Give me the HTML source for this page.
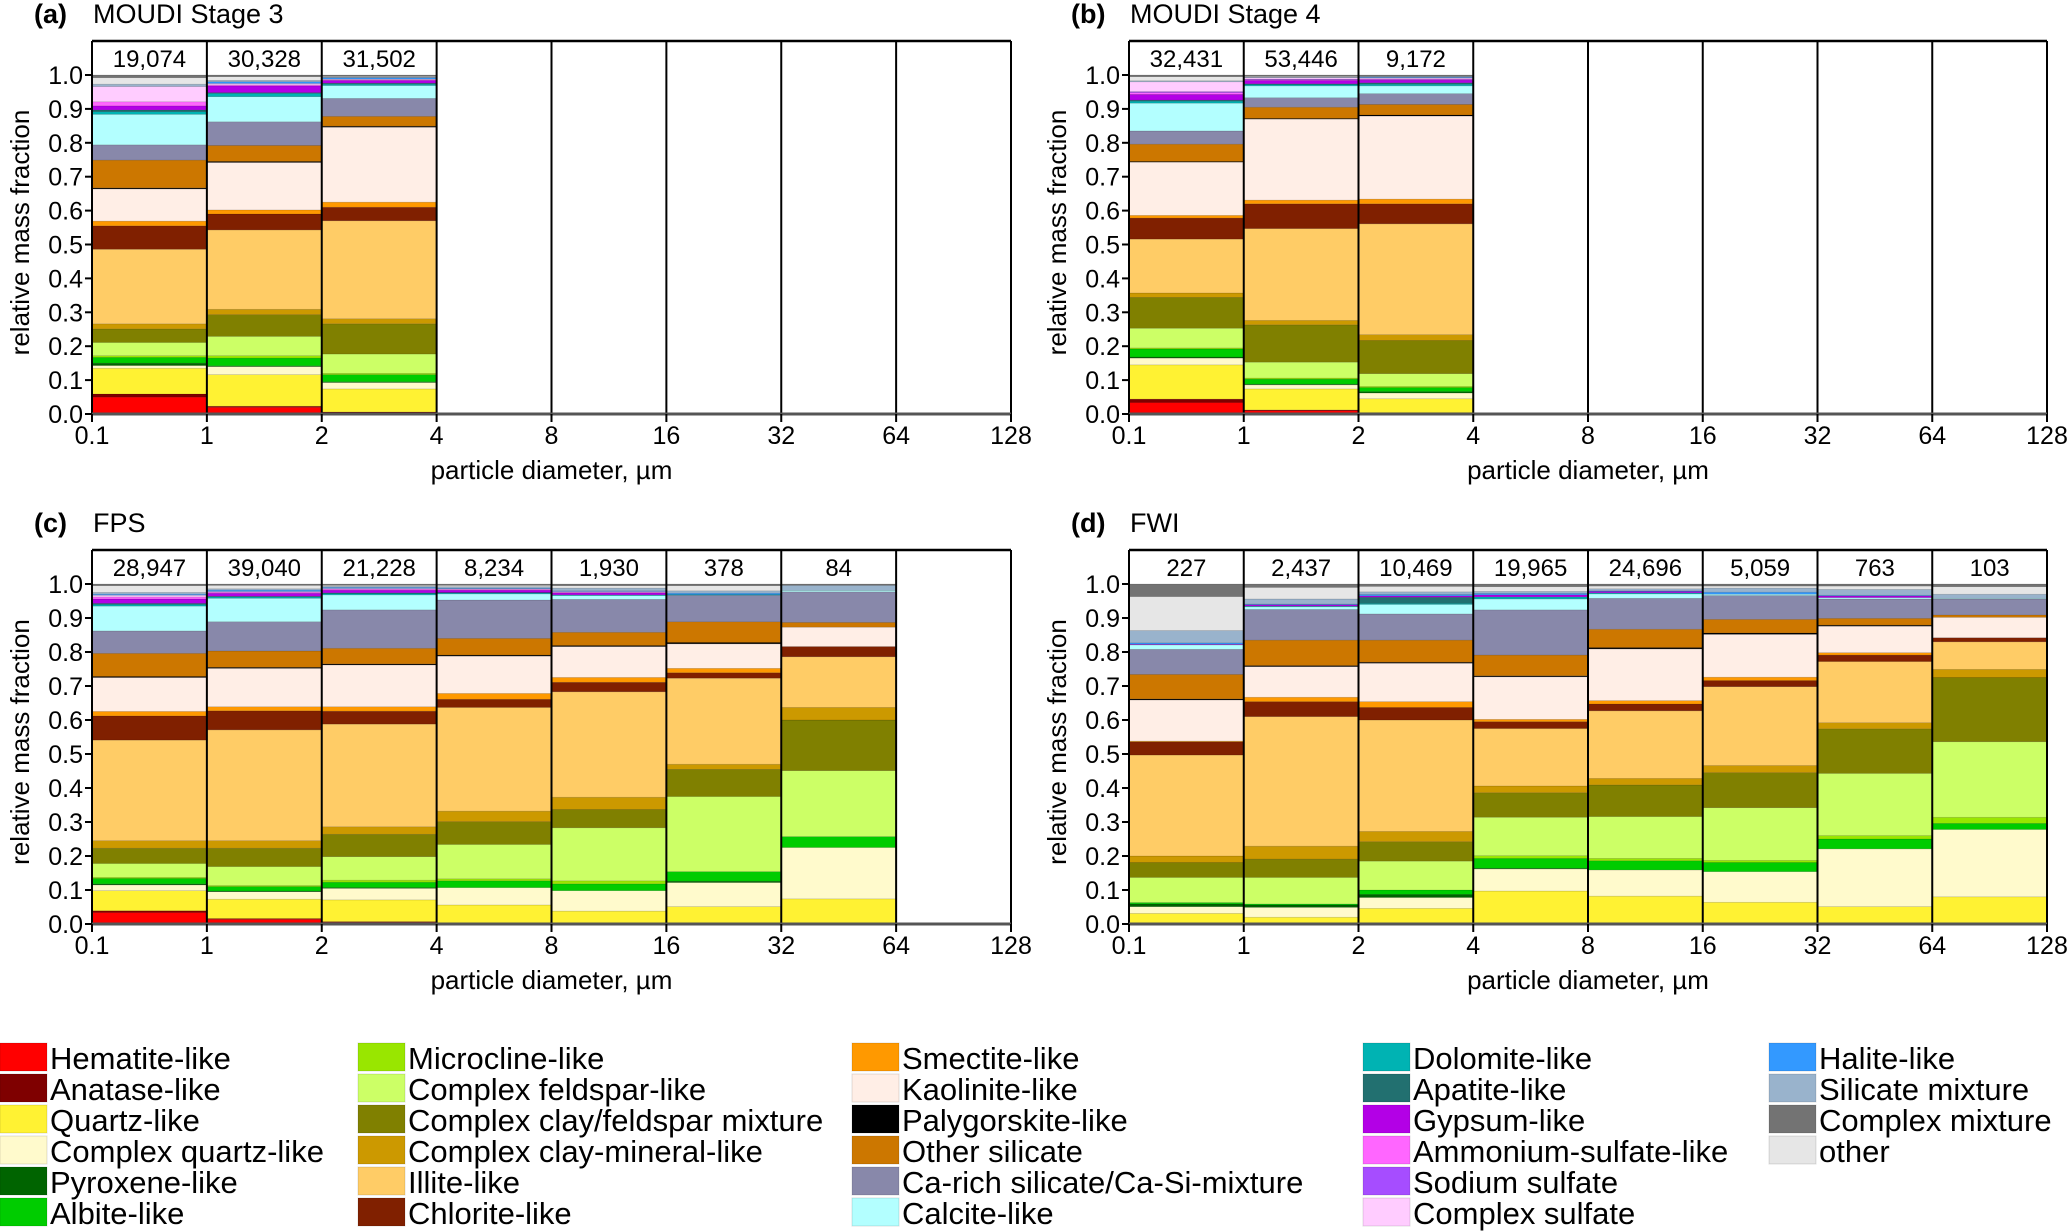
<!DOCTYPE html>
<html><head><meta charset="utf-8"><style>
html,body{margin:0;padding:0;background:#fff;}
svg{display:block;font-family:"Liberation Sans",Arial,sans-serif;}
</style></head><body>
<svg id="chart" width="2067" height="1232" viewBox="0 0 2067 1232" xmlns="http://www.w3.org/2000/svg"></svg>
<script>
const categories = ["Hematite-like","Anatase-like","Quartz-like","Complex quartz-like","Pyroxene-like","Albite-like","Microcline-like","Complex feldspar-like","Complex clay/feldspar mixture","Complex clay-mineral-like","Illite-like","Chlorite-like","Smectite-like","Kaolinite-like","Palygorskite-like","Other silicate","Ca-rich silicate/Ca-Si-mixture","Calcite-like","Dolomite-like","Apatite-like","Gypsum-like","Ammonium-sulfate-like","Sodium sulfate","Complex sulfate","Halite-like","Silicate mixture","Complex mixture","other"];
const colors = ["#ff0000","#7f0000","#fff233","#fffacc","#006400","#00cc00","#99e600","#ccff66","#808000","#cc9900","#ffcc66","#802000","#ff9900","#ffeee6","#000000","#cc7700","#8888aa","#b3ffff","#00b3b3","#227070","#b300e6","#ff66ff","#a64dff","#ffccff","#3399ff","#99b3cc","#737373","#e6e6e6"];
const stackOrder = [0,1,2,3,4,5,6,7,8,9,10,11,12,13,14,15,16,17,18,19,20,21,22,23,24,25,27,26];
const xTickLabels = ["0.1","1","2","4","8","16","32","64","128"];
const yTickLabels = ["0.0","0.1","0.2","0.3","0.4","0.5","0.6","0.7","0.8","0.9","1.0"];

const countsA = ["19,074","30,328","31,502"];
const countsB = ["32,431","53,446","9,172"];
const countsC = ["28,947","39,040","21,228","8,234","1,930","378","84"];
const countsD = ["227","2,437","10,469","19,965","24,696","5,059","763","103"];

const barsA = [
 [.05,.009,.076,.008,.007,.017,.005,.039,.040,.015,.220,.069,.014,.095,.003,.082,.045,.090,.008,.005,.012,.012,0,.045,0,.007,.008,.019],
 [.02,.003,.093,.024,.002,.023,.007,.057,.064,.016,.234,.047,.012,.140,.003,.047,.070,.074,.010,.002,.020,.003,0,.004,.005,.004,.005,.011],
 [.004,.002,.068,.019,.002,.021,.004,.057,.089,.015,.289,.040,.015,.221,.003,.029,.053,.038,.004,.003,.008,.002,0,.002,.004,.002,.004,.002]
];
const barsB = [
 [.034,.010,.101,.020,.003,.024,.003,.058,.091,.013,.159,.062,.008,.157,.002,.051,.039,.082,.006,.003,.017,.005,.003,.029,0,.003,.005,.012],
 [.010,.002,.062,.012,.002,.015,.003,.047,.110,.013,.271,.073,.011,.239,.002,.033,.028,.035,.004,.002,.010,.002,.002,.004,0,.002,.004,.002],
 [.003,.001,.041,.017,.004,.012,.003,.038,.098,.017,.327,.059,.014,.245,.003,.031,.032,.023,.005,.004,.008,.002,.002,.003,.002,.002,.004,0]
];
const barsC = [
 [.034,.005,.059,.017,.003,.016,.003,.041,.045,.022,.296,.071,.013,.100,.003,.068,.066,.073,.005,.003,.013,.006,0,.005,.003,.005,.005,.020],
 [.014,.002,.057,.022,.002,.013,.003,.056,.054,.022,.326,.056,.012,.113,.003,.048,.086,.069,.004,.002,.009,.003,0,.002,.004,.004,.004,.010],
 [.005,.002,.064,.034,.002,.016,.006,.069,.066,.022,.302,.038,.013,.123,.003,.046,.113,.044,.004,.002,.008,.003,0,.002,.003,.003,.004,.003],
 [0,0,.056,.051,0,.020,.006,.101,.067,.031,.305,.024,.017,.110,.003,.049,.113,.018,.003,.001,.007,.002,0,.002,.002,.004,.004,.004],
 [0,0,.038,.060,0,.020,.009,.156,.054,.036,.310,.028,.014,.091,.003,.039,.097,.011,.002,0,.006,.002,0,.002,.002,.008,.005,.007],
 [0,0,.051,.071,.004,.028,0,.221,.080,.015,.253,.016,.013,.072,.004,.061,.078,0,.002,0,0,0,0,0,.004,.007,.005,.015],
 [0,0,.074,.151,0,.032,0,.194,.149,.037,.149,.030,0,.057,0,.014,.090,.004,0,0,0,0,0,0,0,.015,.004,0]
];
const barsD = [
 [0,0,.031,.020,.008,.004,0,.074,.044,.019,.297,.039,.002,.121,.003,.072,.074,.013,0,0,.002,0,0,0,.004,.036,.037,.100],
 [0,0,.020,.029,.007,.003,0,.078,.054,.038,.381,.044,.013,.090,.003,.075,.090,.008,.002,0,.004,0,0,0,.002,.015,.010,.034],
 [0,0,.046,.032,.009,.013,0,.085,.057,.030,.328,.037,.017,.113,.003,.065,.077,.028,.003,.018,.004,0,0,0,.004,.008,.007,.016],
 [0,0,.097,.065,.002,.029,.008,.113,.072,.020,.169,.020,.007,.125,.003,.061,.133,.032,.006,0,.006,0,0,0,.004,.006,.008,.014],
 [0,0,.082,.077,0,.027,.007,.123,.093,.019,.199,.020,.010,.152,.004,.054,.091,.013,.003,0,.004,0,0,0,.002,.006,.006,.008],
 [0,0,.064,.090,0,.027,.006,.155,.103,.021,.232,.018,.010,.126,.004,.040,.070,.004,0,0,0,0,0,0,.006,.012,.006,.006],
 [0,0,.051,.170,0,.029,.010,.183,.131,.018,.180,.019,.007,.078,.003,.020,.057,.004,0,0,.005,0,0,0,.002,.017,.006,.010],
 [0,0,.080,.198,0,.018,.018,.222,.189,.024,.081,.012,0,.060,0,.007,.047,.002,0,0,0,0,0,0,0,.012,.008,.022]
];

const NS = "http://www.w3.org/2000/svg";
const svg = document.getElementById("chart");
function mk(tag, attrs, parent, text) {
  const e = document.createElementNS(NS, tag);
  for (const k in attrs) e.setAttribute(k, attrs[k]);
  if (text !== undefined) e.textContent = text;
  (parent || svg).appendChild(e);
  return e;
}

const panels = [
  {id:"a", label:"(a)", title:"MOUDI Stage 3", bars:barsA, counts:countsA, x0:92, x1:1011, yTop:41, yOne:75, yZero:414},
  {id:"b", label:"(b)", title:"MOUDI Stage 4", bars:barsB, counts:countsB, x0:1129, x1:2047, yTop:41, yOne:75, yZero:414},
  {id:"c", label:"(c)", title:"FPS", bars:barsC, counts:countsC, x0:92, x1:1011, yTop:550, yOne:584, yZero:924},
  {id:"d", label:"(d)", title:"FWI", bars:barsD, counts:countsD, x0:1129, x1:2047, yTop:550, yOne:584, yZero:924}
];

panels.forEach(p => {
  const g = mk("g", {});
  
  
  const nBins = xTickLabels.length - 1;
  const xScale = i => p.x0 + (p.x1 - p.x0) * i / nBins;
  const yScale = v => p.yZero - (p.yZero - p.yOne) * v;

  const t = mk("text", {x:p.x0 - 58, y:p.yTop - 18, "font-size":27, "font-weight":"bold", fill:"#000"}, g, p.label);
  
  
  const tt = mk("text", {x:p.x0 + 1, y:p.yTop - 18, "font-size":27, fill:"#000"}, g, p.title);
  
  

  p.bars.forEach((vals, bi) => {
    const bg = mk("g", {}, g);
    
    
    let cum = 0;
    stackOrder.forEach(ci => {
      const v = vals[ci];
      if (!v) return;
      const yT = yScale(cum + v), yB = yScale(cum);
      const r = mk("rect", {x:xScale(bi), y:yT, width:xScale(bi+1)-xScale(bi), height:Math.max(0.5, yB - yT), fill:colors[ci], stroke:"rgba(0,0,0,0.18)", "stroke-width":0.6}, bg);
      
      
      cum += v;
    });
  });

  p.counts.forEach((c, bi) => {
    const ct = mk("text", {x:(xScale(bi)+xScale(bi+1))/2, y:p.yTop + 26, "font-size":24, "text-anchor":"middle", fill:"#000"}, g, c);
    
    
  });

  mk("line", {x1:p.x0, x2:p.x1, y1:p.yTop, y2:p.yTop, stroke:"#000", "stroke-width":2.5}, g);
  for (let i = 0; i <= nBins; i++) {
    mk("line", {x1:xScale(i), x2:xScale(i), y1:p.yTop, y2:p.yZero, stroke:"#000", "stroke-width":2}, g);
  }
  mk("line", {x1:p.x0, x2:p.x1, y1:p.yZero, y2:p.yZero, stroke:"#555", "stroke-width":3}, g);

  const ya = mk("g", {}, g);
  
  
  yTickLabels.forEach((lab, i) => {
    const v = i / (yTickLabels.length - 1);
    mk("line", {x1:p.x0 - 7, x2:p.x0, y1:yScale(v), y2:yScale(v), stroke:"#000", "stroke-width":2}, ya);
    mk("text", {x:p.x0 - 9, y:yScale(v) + 9, "font-size":25, "text-anchor":"end", fill:"#000"}, ya, lab);
  });
  const xa = mk("g", {}, g);
  
  
  xTickLabels.forEach((lab, i) => {
    mk("line", {x1:xScale(i), x2:xScale(i), y1:p.yZero, y2:p.yZero + 8, stroke:"#000", "stroke-width":2}, xa);
    mk("text", {x:xScale(i), y:p.yZero + 30, "font-size":25, "text-anchor":"middle", fill:"#000"}, xa, lab);
  });
  const xl = mk("text", {x:(p.x0 + p.x1)/2, y:p.yZero + 65, "font-size":26, "text-anchor":"middle", fill:"#000"}, g, "particle diameter, µm");
  
  
  const yc = (p.yTop + p.yZero) / 2 + 5;
  const yl = mk("text", {x:0, y:0, "font-size":26, "text-anchor":"middle", fill:"#000", transform:"translate(" + (p.x0 - 63) + "," + yc + ") rotate(-90)"}, g, "relative mass fraction");
  
  
});

const legendCols = [0, 358, 852, 1363, 1769];
const legendPerCol = [6, 6, 6, 6, 4];
const lg = mk("g", {});


let idx = 0;
legendCols.forEach((cx, col) => {
  for (let r = 0; r < legendPerCol[col]; r++) {
    const ci = idx++;
    const eg = mk("g", {}, lg);
    
    
    const y = 1043 + r * 31;
    mk("rect", {x:cx, y:y, width:47, height:28, fill:colors[ci], stroke:"rgba(0,0,0,0.12)", "stroke-width":1}, eg);
    mk("text", {x:cx + 50, y:y + 26, "font-size":31, fill:"#000"}, eg, categories[ci]);
  }
});
</script>
</body></html>
